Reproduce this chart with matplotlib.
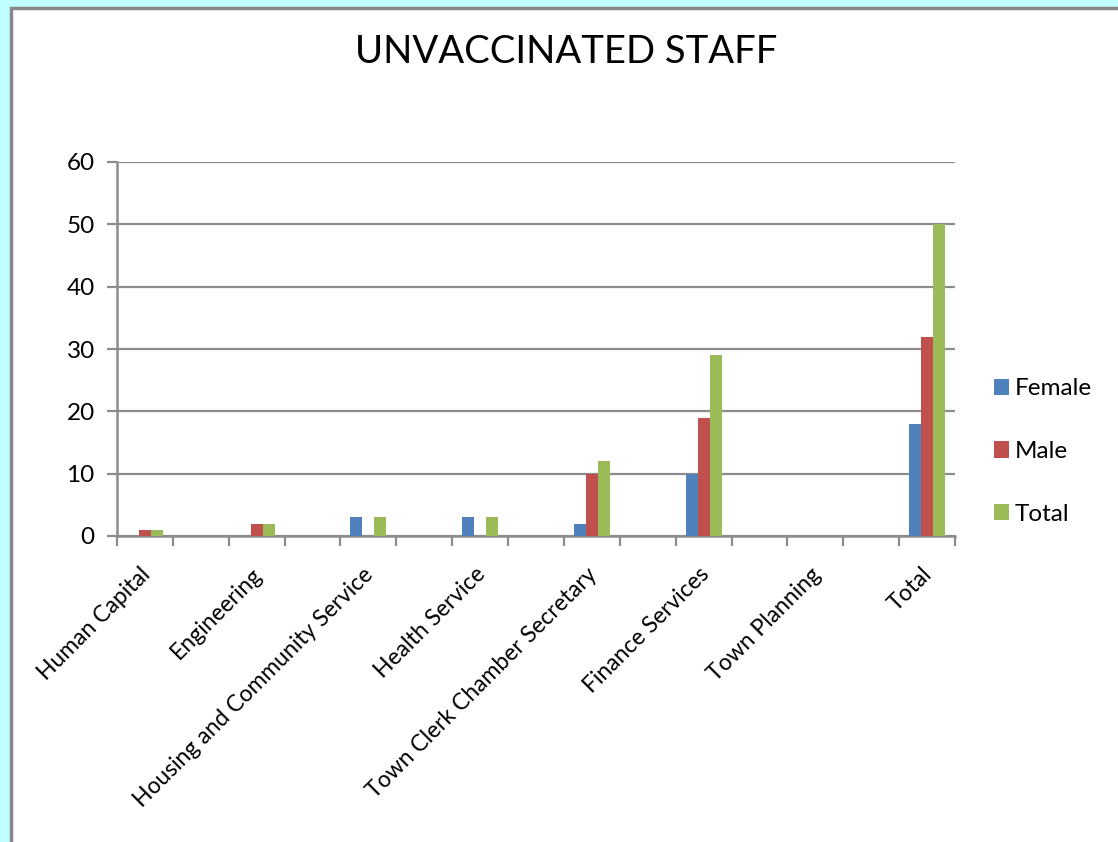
import matplotlib
matplotlib.use("Agg")
import matplotlib.pyplot as plt
import numpy as np
from matplotlib.patches import Rectangle

categories = ["Human Capital", "Engineering", "Housing and Community Service",
              "Health Service", "Town Clerk Chamber Secretary", "Finance Services",
              "Town Planning", "Total"]
female = [0, 0, 3, 3, 2, 10, 0, 18]
male = [1, 2, 0, 0, 10, 19, 0, 32]
total = [1, 2, 3, 3, 12, 29, 0, 50]
series_names = ["Female", "Male", "Total"]
colors = ["#4F81BD", "#C0504D", "#9BBB59"]

plt.rcParams['font.family'] = ['Lato', 'DejaVu Sans']

fig = plt.figure(figsize=(11.18, 8.42), dpi=100)
fig.patch.set_facecolor("#C0FFFF")
# white panel with gray border
fig.patches.append(Rectangle((10.5/1118, -0.1), 1.2, 1 - 7.5/842 + 0.1,
                             transform=fig.transFigure, facecolor="white",
                             edgecolor="#888888", linewidth=2.5, zorder=-10))

ax = fig.add_axes([117/1118, 1 - 536/842, 838/1118, 374/842])
ax.set_facecolor("none")
ax.set_zorder(5)

pos = np.arange(len(categories)) * 2
w = 0.215
for i, (vals, name, c) in enumerate(zip([female, male, total], series_names, colors)):
    ax.bar(pos + (i - 1) * w, vals, width=w, color=c, label=name, zorder=3)

ax.set_xlim(-0.5, 14.5)
ax.set_ylim(0, 60)
ax.set_yticks(np.arange(0, 61, 10))
ax.yaxis.grid(True, color="#8C8C8C", linewidth=1.6, zorder=1)
ax.set_axisbelow(True)

ax.set_xticks(np.arange(-0.5, 14.6, 1.0))
ax.set_xticklabels([])
ax.tick_params(axis='x', direction='out', length=7, width=1.6, color="#8C8C8C")
ax.tick_params(axis='y', direction='out', length=7, width=1.6, color="#8C8C8C",
               labelsize=17.5, pad=9)
for lbl in ax.get_yticklabels():
    lbl.set_color("black")

for sp in ["top", "right"]:
    ax.spines[sp].set_visible(False)
for sp in ["left", "bottom"]:
    ax.spines[sp].set_color("#8C8C8C")
    ax.spines[sp].set_linewidth(1.8)

for p, name in zip(pos, categories):
    ax.annotate(name, xy=(p, 0), xycoords=('data', 'axes fraction'),
                xytext=(-4, -20), textcoords='offset points',
                rotation=45, ha='right', va='top', rotation_mode='anchor',
                fontsize=16.5)

fig.text(566/1118, 1 - 52/842, "UNVACCINATED STAFF", ha='center', va='center',
         fontsize=27.5)

leg = ax.legend(loc='center left', bbox_to_anchor=(1.02, 0.226), frameon=False,
                fontsize=17.5, handlelength=0.65, handleheight=0.65,
                handletextpad=0.2, labelspacing=1.72)

fig.savefig("out.png", dpi=100, facecolor=fig.get_facecolor())
